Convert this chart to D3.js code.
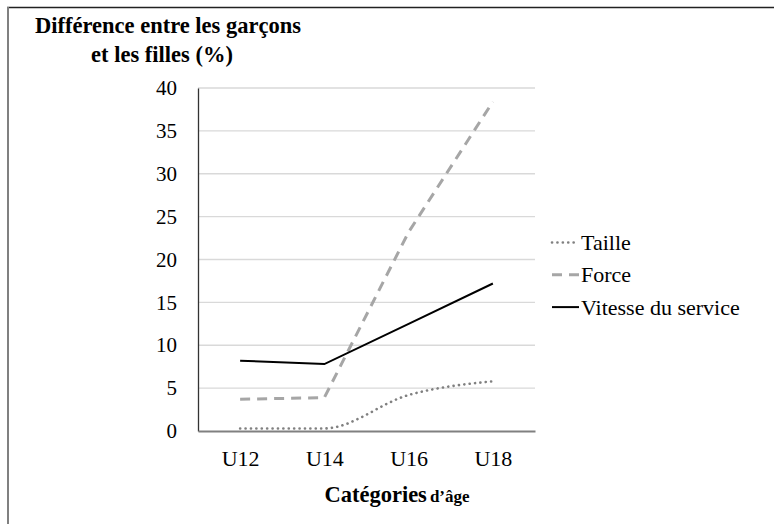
<!DOCTYPE html>
<html>
<head>
<meta charset="utf-8">
<script src="https://cdn.jsdelivr.net/npm/d3@7"></script>
</head>
<body style="margin:0;background:#fff">
<div id="chart"></div>
<script>
// data
var categories = ["U12", "U14", "U16", "U18"];
var taille  = [0.3, 0.3, 4.2, 5.8];
var force   = [3.7, 3.9, 23.2, 38.4];
var vitesse = [8.2, 7.8, 12.5, 17.2];
var yTicks  = [0, 5, 10, 15, 20, 25, 30, 35, 40];
var seriesNames = ["Taille", "Force", "Vitesse du service"];

var FONT = "'Liberation Serif'";
var W = 774, H = 524;
var margin = {top: 88, left: 198, right: 239, bottom: 93};
var width = W - margin.left - margin.right,
    height = H - margin.top - margin.bottom;

var svg = d3.select("#chart").append("svg")
  .attr("width", W).attr("height", H);

// frame (only top and left edges show)
svg.append("line").attr("x1", 7).attr("x2", W).attr("y1", 7.5).attr("y2", 7.5)
  .attr("stroke", "#222").attr("stroke-width", 1.5);
svg.append("line").attr("x1", 8).attr("x2", 8).attr("y1", 7).attr("y2", H)
  .attr("stroke", "#808080").attr("stroke-width", 2);

var g = svg.append("g")
  .attr("transform", "translate(" + margin.left + "," + margin.top + ")");

var x = d3.scalePoint().domain(categories).range([0, width]).padding(0.5);
var y = d3.scaleLinear().domain([0, 40]).range([height, 0]);

// gridlines
g.selectAll(".grid").data(yTicks.filter(d => d > 0)).enter()
  .append("line")
  .attr("x1", 0).attr("x2", width)
  .attr("y1", d => y(d)).attr("y2", d => y(d))
  .attr("stroke", "#d9d9d9").attr("stroke-width", 1.3);

// y axis
var yAxis = g.append("g").call(d3.axisLeft(y).tickValues(yTicks).tickSize(0).tickPadding(21));
yAxis.attr("font-family", null);
yAxis.select(".domain").attr("stroke", "#333").attr("stroke-width", 1.3);
yAxis.selectAll("text").attr("font-size", 21).attr("fill", "#000")
  .style("font-family", FONT);

// x axis
var xAxis = g.append("g").attr("transform", "translate(0," + height + ")")
  .call(d3.axisBottom(x).tickSize(0).tickPadding(19));
xAxis.attr("font-family", null);
xAxis.select(".domain").attr("stroke", "#808080").attr("stroke-width", 2);
xAxis.selectAll("text").attr("font-size", 22).attr("fill", "#000")
  .style("font-family", FONT);

// lines
var series = [
  {name: seriesNames[0], values: taille, stroke: "#808080", width: 2.6, dash: "0.1,5.3", cap: "round", curve: d3.curveMonotoneX},
  {name: seriesNames[1], values: force, stroke: "#a6a6a6", width: 3, dash: "10,7", cap: "butt", curve: d3.curveLinear},
  {name: seriesNames[2], values: vitesse, stroke: "#000", width: 2, dash: null, cap: "butt", curve: d3.curveLinear}
];

series.forEach(function(s) {
  var line = d3.line()
    .x((d, i) => x(categories[i]))
    .y(d => y(d))
    .curve(s.curve);
  g.append("path")
    .datum(s.values)
    .attr("d", line)
    .attr("fill", "none")
    .attr("stroke", s.stroke)
    .attr("stroke-width", s.width)
    .attr("stroke-linecap", s.cap)
    .attr("stroke-dasharray", s.dash);
});

// legend
var legend = svg.append("g").attr("transform", "translate(552,242.5)");
series.forEach(function(s, i) {
  var row = legend.append("g").attr("transform", "translate(0," + (i * 32.3) + ")");
  row.append("line").attr("x1", 0).attr("x2", 27).attr("y1", 0).attr("y2", 0)
    .attr("stroke", s.stroke).attr("stroke-width", s.width)
    .attr("stroke-linecap", s.cap)
    .attr("stroke-dasharray", s.dash);
  row.append("text").attr("x", 29).attr("y", 7.5)
    .attr("font-size", 22).style("font-family", FONT).text(s.name);
});

// titles
svg.append("text").attr("x", 168).attr("y", 33).attr("text-anchor", "middle")
  .attr("font-size", 22.5).attr("font-weight", "bold").style("font-family", FONT)
  .text("Différence entre les garçons");
svg.append("text").attr("x", 162).attr("y", 62).attr("text-anchor", "middle")
  .attr("font-size", 22.5).attr("font-weight", "bold").style("font-family", FONT)
  .text("et les filles (%)");

var xt = svg.append("text").attr("x", 397).attr("y", 502).attr("text-anchor", "middle")
  .attr("font-weight", "bold").style("font-family", FONT);
xt.append("tspan").attr("font-size", 22.5).text("Catégories");
xt.append("tspan").attr("font-size", 17).attr("dx", 3).text("d’âge");
</script>
</body>
</html>
